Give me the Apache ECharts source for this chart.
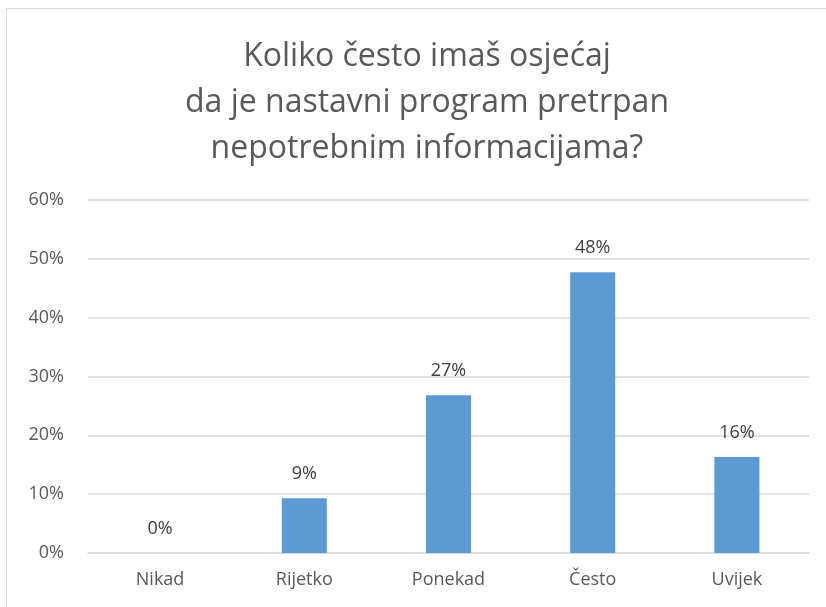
<!DOCTYPE html>
<html lang="hr">
<head>
    <meta charset="UTF-8">
    <title>Koliko često</title>
    <script src="https://cdn.jsdelivr.net/npm/echarts@6/dist/echarts.min.js"></script>
    <style>
        html, body {
            margin: 0;
            padding: 0;
            background: #ffffff;
            overflow: hidden;
        }
        .frame {
            position: absolute;
            left: 6px;
            top: 8px;
            width: 840px;
            height: 640px;
            border: 1px solid #d9d9d9;
            box-sizing: border-box;
        }
        #chart {
            position: absolute;
            left: 0;
            top: 0;
            width: 826px;
            height: 607px;
        }
    </style>
</head>
<body>
    <div class="frame"></div>
    <div id="chart"></div>
    <script>
        var categories = ['Nikad', 'Rijetko', 'Ponekad', 'Često', 'Uvijek'];
        var values = [0, 9.3, 26.8, 47.7, 16.3];
        var yTicks = [0, 10, 20, 30, 40, 50, 60];

        var font = 'Open Sans';
        var chart = echarts.init(document.getElementById('chart'));

        chart.setOption({
            animation: false,
            title: {
                text: 'Koliko često imaš osjećaj\nda je nastavni program pretrpan\nnepotrebnim informacijama?',
                left: 422,
                top: 29,
                textAlign: 'center',
                textStyle: {
                    fontFamily: font,
                    fontSize: 32,
                    fontWeight: 'normal',
                    color: '#595959',
                    lineHeight: 46
                }
            },
            grid: {
                left: 88,
                right: 17,
                top: 200,
                bottom: 54
            },
            xAxis: {
                type: 'category',
                data: categories,
                axisLine: { lineStyle: { color: '#d9d9d9', width: 1.5 } },
                axisTick: { show: false },
                axisLabel: {
                    fontFamily: font,
                    fontSize: 18,
                    color: '#595959',
                    margin: 18
                }
            },
            yAxis: {
                type: 'value',
                min: yTicks[0],
                max: yTicks[yTicks.length - 1],
                interval: 10,
                axisLine: { show: false },
                axisTick: { show: false },
                splitLine: { lineStyle: { color: '#d9d9d9', width: 1.5 } },
                axisLabel: {
                    fontFamily: font,
                    fontSize: 18,
                    color: '#595959',
                    margin: 24,
                    formatter: function (v) { return v + '%'; }
                }
            },
            series: [{
                type: 'bar',
                data: values,
                barWidth: 45,
                itemStyle: { color: '#5b9bd5' },
                label: {
                    show: true,
                    position: 'top',
                    distance: 15,
                    fontFamily: font,
                    fontSize: 18,
                    color: '#404040',
                    formatter: function (p) { return Math.round(p.value) + '%'; }
                }
            }]
        });
    </script>
</body>
</html>
